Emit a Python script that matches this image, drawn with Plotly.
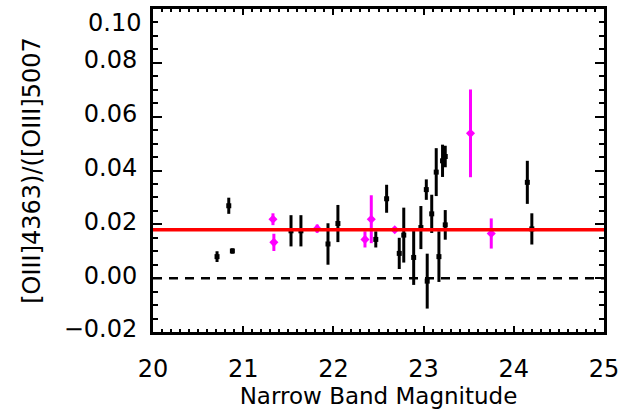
import plotly.graph_objects as go

# Black points (magnitude, ratio, error)
blk_mag = [20.71, 20.84, 20.88, 21.53, 21.64, 21.94, 22.05, 22.47, 22.59, 22.73, 22.78,
           22.89, 22.97, 23.03, 23.04, 23.09, 23.14, 23.17, 23.21, 23.24, 23.24, 24.15, 24.20]
blk_val = [0.0080, 0.0269, 0.0101, 0.0176, 0.0176, 0.0127, 0.0203, 0.0144, 0.0295, 0.0092, 0.0160,
           0.0077, 0.0188, 0.0329, -0.0011, 0.0239, 0.0394, 0.0080, 0.0436, 0.0452, 0.0198, 0.0356, 0.0183]
blk_err = [0.0020, 0.0030, 0.0010, 0.0058, 0.0058, 0.0077, 0.0069, 0.0030, 0.0052, 0.0058, 0.0102,
           0.0102, 0.0080, 0.0038, 0.0102, 0.0071, 0.0089, 0.0094, 0.0060, 0.0040, 0.0055, 0.0080, 0.0058]

# Magenta points
mag_mag = [21.33, 21.34, 21.82, 22.35, 22.42, 22.68, 23.52, 23.75]
mag_val = [0.0219, 0.0133, 0.0184, 0.0144, 0.0219, 0.0180, 0.0538, 0.0166]
mag_err = [0.0022, 0.0032, 0.0015, 0.0030, 0.0089, 0.0010, 0.0163, 0.0056]

mean_ratio = 0.018
x_range = [20, 25]
y_range = [-0.02, 0.10]
x_ticks = [20, 21, 22, 23, 24, 25]
y_ticks = [-0.02, 0.00, 0.02, 0.04, 0.06, 0.08]
y_ticktext = ["\u22120.02", "0.00", "0.02", "0.04", "0.06", "0.08"]

FONT = "DejaVu Sans"
TICK_SIZE = 24
TITLE_SIZE = 23

fig = go.Figure()

fig.add_trace(go.Scatter(x=x_range, y=[0, 0], mode="lines",
                         line=dict(color="black", width=2.5, dash="9px,7px"),
                         hoverinfo="skip", showlegend=False))

fig.add_trace(go.Scatter(x=blk_mag, y=blk_val, mode="markers",
                         marker=dict(symbol="square", size=5, color="black"),
                         error_y=dict(type="data", array=blk_err, color="black",
                                      thickness=3, width=0),
                         showlegend=False))

fig.add_trace(go.Scatter(x=mag_mag, y=mag_val, mode="markers",
                         marker=dict(symbol="diamond", size=7, color="#FF00FF"),
                         error_y=dict(type="data", array=mag_err, color="#FF00FF",
                                      thickness=3, width=0),
                         showlegend=False))

fig.add_trace(go.Scatter(x=x_range, y=[mean_ratio, mean_ratio], mode="lines",
                         line=dict(color="#FF0000", width=3.5),
                         hoverinfo="skip", showlegend=False))

fig.update_layout(
    width=643, height=415,
    margin=dict(l=153, r=39, t=6, b=83),
    paper_bgcolor="white", plot_bgcolor="white",
    font=dict(family=FONT, size=TICK_SIZE, color="black"),
    xaxis=dict(range=x_range, showgrid=False, zeroline=False,
               showline=True, linewidth=3, linecolor="black", mirror="allticks",
               ticks="inside", ticklen=6, tickwidth=2, tickcolor="black",
               tickvals=x_ticks, ticklabelstandoff=13,
               minor=dict(ticks="inside", dtick=0.1, ticklen=3, tickwidth=2, tickcolor="black"),
               title=dict(text="Narrow Band Magnitude", font=dict(size=TITLE_SIZE), standoff=1)),
    yaxis=dict(range=y_range, showgrid=False, zeroline=False,
               showline=True, linewidth=3, linecolor="black", mirror="allticks",
               ticks="inside", ticklen=9, tickwidth=2, tickcolor="black",
               tickvals=y_ticks, ticktext=y_ticktext, ticklabelstandoff=8,
               ticklabelshift=-3,
               minor=dict(ticks="inside", dtick=0.005, ticklen=5, tickwidth=2, tickcolor="black"),
               title=dict(text="[OIII]4363)/([OIII]5007", font=dict(size=24), standoff=17)),
)

fig.add_annotation(text="0.10", xref="paper", yref="paper", x=0, y=(332 - 20) / (332 - 6),
                   xanchor="right", yanchor="middle", xshift=-10, showarrow=False,
                   font=dict(family=FONT, size=TICK_SIZE, color="black"))

fig.write_html("out.html")
